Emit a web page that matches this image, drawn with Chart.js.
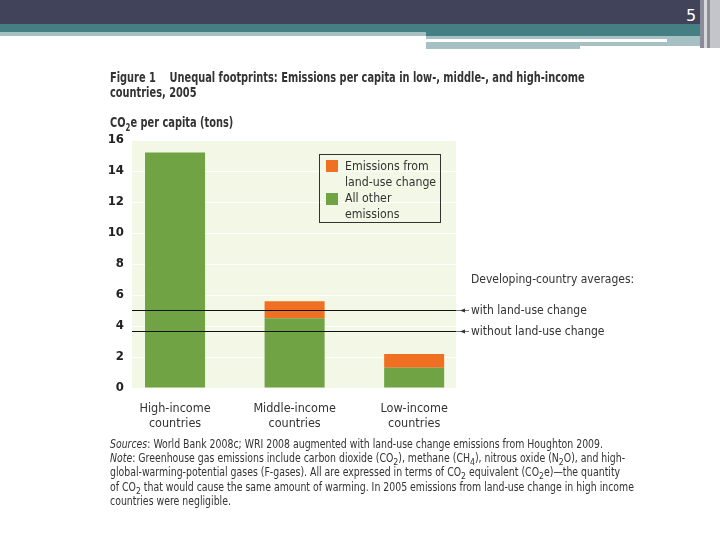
<!DOCTYPE html>
<html>
<head>
<meta charset="utf-8">
<script src="https://cdn.jsdelivr.net/npm/chart.js@4"></script>
<style>
  body { margin: 0; background: #fff; }
  #page { position: relative; width: 720px; height: 540px; overflow: hidden;
          font-family: 'DejaVu Sans Condensed', 'Liberation Sans Narrow', sans-serif; color: #333; }
  .abs { position: absolute; white-space: nowrap; transform-origin: 0 0; }
  .hdr { position: absolute; }
  #chart { position: absolute; left: 0; top: 0; }
  .title { font-weight: bold; font-size: 14px; line-height: 15px; transform: scaleX(0.78); }
  .foot { font-size: 11.5px; line-height: 14.5px; transform: scaleX(0.905); }
  .legend { left: 319px; top: 154px; width: 120px; height: 67px; border: 1px solid #333;
            font-size: 13px; line-height: 16px; }
  .sw { position: absolute; left: 6px; width: 12px; height: 12px; }
  .lt { position: absolute; left: 25px; white-space: nowrap; transform: scaleX(0.94); transform-origin: 0 0; }
</style>
</head>
<body>
<div id="page">
  <!-- slide header strips -->
  <div class="hdr" style="left:0;top:0;width:700px;height:24px;background:#41435a"></div>
  <div class="hdr" style="left:0;top:24px;width:700px;height:8px;background:#467f83"></div>
  <div class="hdr" style="left:0;top:32px;width:426px;height:4px;background:#a6c0c3"></div>
  <div class="hdr" style="left:426px;top:32px;width:274px;height:4px;background:#467f83"></div>
  <div class="hdr" style="left:426px;top:36px;width:274px;height:3px;background:#a6c0c3"></div>
  <div class="hdr" style="left:426px;top:42px;width:154px;height:7px;background:#a6c0c3"></div>
  <div class="hdr" style="left:580px;top:42px;width:127px;height:4px;background:#a6c0c3"></div>
  <div class="hdr" style="left:667px;top:36px;width:33px;height:10px;background:#a6c0c3"></div>
  <div class="hdr" style="left:700px;top:0;width:4px;height:48px;background:#8a8c98"></div>
  <div class="hdr" style="left:704px;top:0;width:3px;height:48px;background:#d6d8dc"></div>
  <div class="hdr" style="left:707px;top:0;width:3px;height:48px;background:#8a8c98"></div>
  <div class="hdr" style="left:710px;top:0;width:10px;height:48px;background:#c4c5cb"></div>
  <div class="abs" style="left:686px;top:6px;color:#fff;font-family:'DejaVu Sans',sans-serif;font-size:16px">5</div>

  <canvas id="chart" width="720" height="540"></canvas>

  <div class="abs title" style="left:110px;top:70px">Figure 1&nbsp;&nbsp;&nbsp; Unequal footprints: Emissions per capita in low-, middle-, and high-income</div>
  <div class="abs title" style="left:110px;top:85px">countries, 2005</div>
  <div class="abs title" style="left:110px;top:115px">CO<sub style="font-size:10px">2</sub>e per capita (tons)</div>

  <div class="abs legend">
    <div class="sw" style="top:5px;background:#f07023"></div>
    <div class="lt" style="top:3px">Emissions from<br>land-use change</div>
    <div class="sw" style="top:38px;background:#6fa344"></div>
    <div class="lt" style="top:35px">All other<br>emissions</div>
  </div>

  <div class="abs foot" style="left:110px;top:437px"><i>Sources</i>: World Bank 2008c; WRI 2008 augmented with land-use change emissions from Houghton 2009.</div>
  <div class="abs foot" style="left:110px;top:451px"><i>Note</i>: Greenhouse gas emissions include carbon dioxide (CO<sub>2</sub>), methane (CH<sub>4</sub>), nitrous oxide (N<sub>2</sub>O), and high-</div>
  <div class="abs foot" style="left:110px;top:465px">global-warming-potential gases (F-gases). All are expressed in terms of CO<sub>2</sub> equivalent (CO<sub>2</sub>e)—the quantity</div>
  <div class="abs foot" style="left:110px;top:480px">of CO<sub>2</sub> that would cause the same amount of warming. In 2005 emissions from land-use change in high income</div>
  <div class="abs foot" style="left:110px;top:494px">countries were negligible.</div>
</div>

<script>
// --- Data ---
const categories = [
    ['High-income', 'countries'],
    ['Middle-income', 'countries'],
    ['Low-income', 'countries']
];
const otherEmissions = [15.2, 4.5, 1.3];
const landUseEmissions = [0, 1.1, 0.9];
const averageValues = [5.05, 3.7];
const averageLabels = ['with land-use change', 'without land-use change'];
const averagesTitle = 'Developing-country averages:';
const yMax = 16;
const yStep = 2;

const FONT = "'DejaVu Sans Condensed', 'Liberation Sans Narrow', sans-serif";

// plot background
const plotBackground = {
    id: 'plotBackground',
    beforeDraw(chart) {
        const { ctx, chartArea: a } = chart;
        ctx.save();
        ctx.fillStyle = '#f3f7e5';
        ctx.fillRect(a.left, a.top, a.right - a.left, a.bottom - a.top);
        ctx.restore();
    }
};

// developing-country average lines with arrow labels
const averageLines = {
    id: 'averageLines',
    afterDatasetsDraw(chart) {
        const { ctx, chartArea: a, scales } = chart;
        ctx.save();
        ctx.font = '12px ' + FONT;
        ctx.fillStyle = '#333';
        ctx.textBaseline = 'middle';
        ctx.fillText(averagesTitle, a.right + 15, scales.y.getPixelForValue(7.0));
        averageValues.forEach((v, i) => {
            const y = Math.round(scales.y.getPixelForValue(v)) + 0.5;
            ctx.strokeStyle = '#111';
            ctx.lineWidth = 1.2;
            ctx.beginPath();
            ctx.moveTo(a.left, y);
            ctx.lineTo(a.right, y);
            ctx.stroke();
            // small arrow pointing back at the line
            ctx.strokeStyle = '#555';
            ctx.lineWidth = 0.8;
            ctx.beginPath();
            ctx.moveTo(a.right, y);
            ctx.lineTo(a.right + 13, y);
            ctx.stroke();
            ctx.fillStyle = '#333';
            ctx.beginPath();
            ctx.moveTo(a.right + 4, y);
            ctx.lineTo(a.right + 9, y - 2);
            ctx.lineTo(a.right + 9, y + 2);
            ctx.closePath();
            ctx.fill();
            ctx.fillText(averageLabels[i], a.right + 15, y);
        });
        ctx.restore();
    }
};

const ctx = document.getElementById('chart').getContext('2d');
new Chart(ctx, {
    type: 'bar',
    data: {
        datasets: [
            {
                label: 'All other emissions',
                data: otherEmissions.map((y, i) => ({ x: i, y: y })),
                backgroundColor: '#6fa344'
            },
            {
                label: 'Emissions from land-use change',
                data: landUseEmissions.map((y, i) => ({ x: i, y: y })),
                backgroundColor: '#f07023'
            }
        ]
    },
    options: {
        responsive: false,
        animation: false,
        layout: { padding: { left: 102, right: 264, top: 140, bottom: 112 } },
        datasets: { bar: { categoryPercentage: 1, barPercentage: 0.502, borderWidth: 0 } },
        plugins: { legend: { display: false }, tooltip: { enabled: false } },
        scales: {
            x: {
                type: 'linear',
                stacked: true,
                offset: false,
                min: -0.36,
                max: 2.35,
                grid: { display: false, offset: false },
                border: { display: false },
                ticks: {
                    stepSize: 1,
                    includeBounds: false,
                    maxRotation: 0,
                    color: '#333',
                    padding: 5,
                    font: { family: FONT, size: 12.5, lineHeight: 1.2 },
                    callback: (v) => categories[v] || ''
                },
                afterFit: (s) => { s.height = 40; }
            },
            y: {
                stacked: true,
                min: 0,
                max: yMax,
                grid: { color: 'rgba(255,255,255,0.95)', drawTicks: false },
                border: { display: false },
                ticks: { stepSize: yStep, color: '#222', padding: 8, font: { family: FONT, size: 13, weight: 'bold' } },
                afterFit: (s) => { s.width = 30; }
            }
        }
    },
    plugins: [plotBackground, averageLines]
});
</script>
</body>
</html>
